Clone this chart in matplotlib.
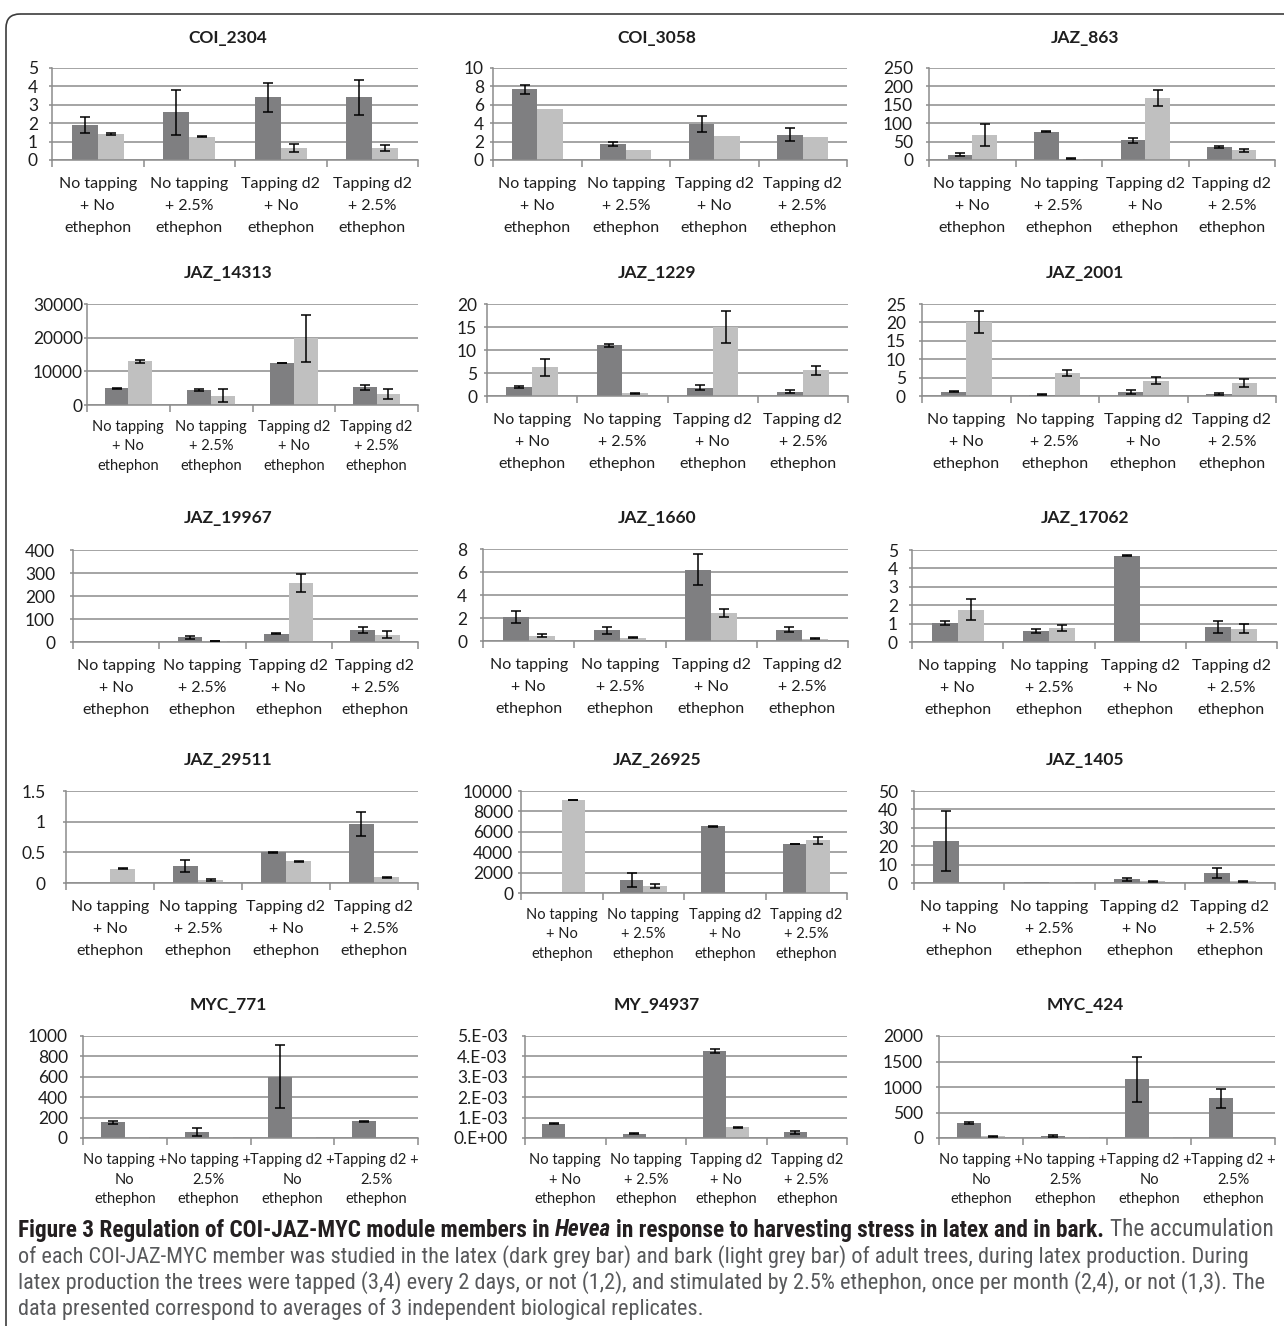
import numpy as np
import matplotlib.pyplot as plt
from matplotlib import font_manager
from matplotlib.patches import FancyBboxPatch

plt.rcParams['font.family'] = ['Lato', 'DejaVu Sans']

# one panel per gene, read left to right, top to bottom
genes = ["COI_2304", "COI_3058", "JAZ_863",
         "JAZ_14313", "JAZ_1229", "JAZ_2001",
         "JAZ_19967", "JAZ_1660", "JAZ_17062",
         "JAZ_29511", "JAZ_26925", "JAZ_1405",
         "MYC_771", "MY_94937", "MYC_424"]

conditions = ["No tapping\n+ No\nethephon", "No tapping\n+ 2.5%\nethephon",
              "Tapping d2\n+ No\nethephon", "Tapping d2\n+ 2.5%\nethephon"]
conditions_plus = ["No tapping +\nNo\nethephon", "No tapping +\n2.5%\nethephon",
                   "Tapping d2 +\nNo\nethephon", "Tapping d2 +\n2.5%\nethephon"]

# latex (dark grey bars)
latex = [
    [1.9, 2.6, 3.4, 3.42],
    [7.7, 1.75, 3.9, 2.75],
    [14, 77, 53, 35],
    [5000, 4500, 12500, 5200],
    [2.0, 11.0, 1.8, 0.9],
    [1.2, 0.4, 1.0, 0.6],
    [2, 20, 35, 53],
    [2.07, 0.93, 6.2, 1.0],
    [1.04, 0.61, 4.69, 0.81],
    [0.003, 0.28, 0.5, 0.96],
    [20, 1250, 6530, 4820],
    [23, 0.3, 2.0, 5.5],
    [154, 59, 600, 164],
    [0.70e-3, 0.21e-3, 4.26e-3, 0.28e-3],
    [295, 40, 1150, 775],
]
latex_err = [
    [0.44, 1.23, 0.77, 0.95],
    [0.5, 0.2, 0.9, 0.7],
    [4, 1, 7, 3],
    [150, 200, 100, 600],
    [0.25, 0.4, 0.5, 0.35],
    [0.15, 0.1, 0.5, 0.2],
    [0, 5, 2, 13],
    [0.54, 0.32, 1.36, 0.2],
    [0.12, 0.1, 0.02, 0.34],
    [0, 0.1, 0.005, 0.2],
    [0, 690, 30, 20],
    [16.4, 0, 0.9, 2.8],
    [12, 38, 307, 5],
    [0.02e-3, 0.03e-3, 0.1e-3, 0.06e-3],
    [25, 25, 440, 195],
]

# bark (light grey bars)
bark = [
    [1.42, 1.27, 0.64, 0.66],
    [5.5, 1.05, 2.65, 2.45],
    [68, 4, 169, 26],
    [13000, 2800, 19800, 3300],
    [6.25, 0.6, 15.0, 5.6],
    [20, 6.2, 4.2, 3.45],
    [1, 5, 256, 32],
    [0.47, 0.3, 2.4, 0.2],
    [1.76, 0.75, 0.02, 0.72],
    [0.235, 0.045, 0.355, 0.09],
    [9115, 690, 20, 5180],
    [0.2, 0.3, 1.0, 0.9],
    [7, 6, 6, 1],
    [0.01e-3, 0.01e-3, 0.52e-3, 0.05e-3],
    [30, 15, 10, 1],
]
bark_err = [
    [0.07, 0.04, 0.22, 0.16],
    [0, 0, 0, 0],
    [29, 1, 22, 3],
    [400, 2000, 6900, 1400],
    [1.85, 0.1, 3.5, 1.0],
    [3, 0.8, 0.9, 1.1],
    [0, 1, 39, 15],
    [0.1, 0.08, 0.35, 0.05],
    [0.55, 0.17, 0, 0.25],
    [0.005, 0.02, 0.01, 0.005],
    [30, 200, 0, 330],
    [0, 0, 0.3, 0.2],
    [0, 0, 0, 0],
    [0, 0, 0.02e-3, 0],
    [15, 0, 0, 0],
]

y_max = [5, 10, 250, 30000, 20, 25, 400, 8, 5, 1.5, 10000, 50, 1000, 5e-3, 2000]
y_step = [1, 2, 50, 10000, 5, 5, 100, 2, 1, 0.5, 2000, 10, 200, 1e-3, 500]
sci_ticks = ["0.E+00", "1.E-03", "2.E-03", "3.E-03", "4.E-03", "5.E-03"]

caption_head = ["Figure 3 Regulation of COI-JAZ-MYC module members in", "Hevea",
                "in response to harvesting stress in latex and in bark.", "The accumulation"]
caption_rest = [
    "of each COI-JAZ-MYC member was studied in the latex (dark grey bar) and bark (light grey bar) of adult trees, during latex production. During",
    "latex production the trees were tapped (3,4) every 2 days, or not (1,2), and stimulated by 2.5% ethephon, once per month (2,4), or not (1,3). The",
    "data presented correspond to averages of 3 independent biological replicates.",
]

# ---- layout, in pixels: left, right, top gridline, zero line ----
W, H = 1284, 1326
boxes = [
    (52, 418, 68, 160), (493, 847, 68, 160), (929, 1275, 68, 160),
    (87, 418, 304, 405), (487, 848, 304, 396), (922, 1276, 304, 396),
    (73, 418, 550, 642), (483, 848, 549, 641), (912, 1277, 550, 642),
    (66, 418, 791, 883), (521, 847, 791, 893), (914, 1275, 791, 883),
    (83, 418, 1036, 1138), (525, 847, 1036, 1138), (939, 1275, 1036, 1138),
]
# gap between y tick labels and the axis line, px
label_gap = [14, 9, 16, 4, 10, 16, 18, 16, 14, 20, 8, 16, 15, 17, 16]
title_x = [228, 657, 1085]
title_y = [38, 273, 518, 760, 1005]
small_labels = {3, 10, 12, 13, 14}
plus_labels = {12, 14}

DARK = '#7f7f81'
LIGHT = '#c0c0c0'
GRID = '#8c8c8c'
TXT = '#1e1e1e'
bw = 0.286
PT = 72 / 100  # points per pixel

fig = plt.figure(figsize=(W / 100, H / 100), dpi=100)
bg = fig.add_axes([0, 0, 1, 1], zorder=0)
bg.set_xlim(0, W)
bg.set_ylim(H, 0)
bg.axis('off')
bg.add_patch(FancyBboxPatch((6, 14), 1330, 1360, boxstyle="round,pad=0,rounding_size=14",
                            fc='none', ec='#3c3c3c', lw=1.2, clip_on=False))

x = np.arange(1, 5)
for i, gene in enumerate(genes):
    l, r, t, z = boxes[i]
    ax = fig.add_axes([l / W, 1 - z / H, (r - l) / W, (z - t) / H], zorder=1)
    ax.patch.set_alpha(0)
    ax.bar(x - bw / 2, latex[i], bw, color=DARK, zorder=2)
    ax.bar(x + bw / 2, bark[i], bw, color=LIGHT, zorder=2)
    for xs, vals, errs in ((x - bw / 2, latex[i], latex_err[i]), (x + bw / 2, bark[i], bark_err[i])):
        errs = np.array(errs)
        keep = errs > 0
        if keep.any():
            ax.errorbar(xs[keep], np.array(vals)[keep], yerr=errs[keep], fmt='none',
                        ecolor='black', elinewidth=1.1, capsize=3.6, capthick=1.1, zorder=3)

    ax.set_xlim(0.5, 4.5)
    ax.set_ylim(0, y_max[i])
    ticks = np.arange(0, y_max[i] + y_step[i] / 2, y_step[i])
    ax.set_yticks(ticks)
    if gene == "MY_94937":
        ax.set_yticklabels(sci_ticks)
    else:
        ax.set_yticklabels(['{:g}'.format(v) for v in ticks])
    ax.yaxis.grid(True, color=GRID, lw=1.1)
    ax.set_axisbelow(True)
    for s in ('top', 'right'):
        ax.spines[s].set_visible(False)
    for s in ('left', 'bottom'):
        ax.spines[s].set_color(GRID)
        ax.spines[s].set_linewidth(1.1)
    ax.tick_params(axis='y', length=3 * PT, width=1.1, color=GRID, labelsize=12.5,
                   labelcolor=TXT, pad=max(label_gap[i] - 3, 1) * PT)

    small = i in small_labels
    labels = conditions_plus if i in plus_labels else conditions
    ax.set_xticks(x)
    ax.set_xticklabels(labels, fontsize=10.5 if small else 11.5, color=TXT,
                       linespacing=1.5 if small else 1.72)
    ax.set_xticks(np.arange(0.5, 5, 1), minor=True)
    ax.tick_params(axis='x', which='major', length=0, pad=10.8 if small else 12)
    ax.tick_params(axis='x', which='minor', length=5, width=1.1, color=GRID)

    bg.text(title_x[i % 3], title_y[i // 3], gene, ha='center', va='center',
            fontsize=12.5, fontweight='bold', color=TXT)

# caption font: a narrow face if one is installed
cap_font = 'Lato'
for name in ('Liberation Sans Narrow', 'Roboto Condensed', 'Open Sans Condensed'):
    try:
        font_manager.findfont(name, fallback_to_default=False)
        cap_font = name
        break
    except ValueError:
        pass
cap_family = [cap_font, 'DejaVu Sans']

renderer = fig.canvas.get_renderer()


def text_width(s, size, **kw):
    t = bg.text(0, 0, s, family=cap_family, fontsize=size, **kw)
    w = t.get_window_extent(renderer).width
    t.remove()
    return w


def head_width(size):
    gap = text_width('a a', size, fontweight='bold') - text_width('aa', size, fontweight='bold')
    w = sum(text_width(p, size, fontweight='bold' if k < 3 else 'normal',
                       fontstyle='italic' if k == 1 else 'normal')
            for k, p in enumerate(caption_head))
    return w + 3 * gap, gap


# body lines fill the block; the heading line is sized on its own to reach the right edge
cap_size = 10 * 1225 / text_width(caption_rest[0], 10)
hw, _ = head_width(cap_size)
head_size = min(cap_size * 1252 / hw, cap_size * 1.06)
_, space = head_width(head_size)

cap_x, cap_y, cap_gap = 18, 1230, 26.3
styles = [('bold', 'normal', '#231f20'), ('bold', 'italic', '#231f20'),
          ('bold', 'normal', '#231f20'), ('normal', 'normal', '#58595b')]
cx = cap_x
for piece, (wt, st, col) in zip(caption_head, styles):
    tx = bg.text(cx, cap_y, piece, family=cap_family, fontsize=head_size, fontweight=wt,
                 fontstyle=st, color=col, va='center', ha='left')
    cx += tx.get_window_extent(renderer).width + space
for k, line in enumerate(caption_rest):
    bg.text(cap_x, cap_y + cap_gap * (k + 1), line, family=cap_family, fontsize=cap_size,
            color='#58595b', va='center', ha='left')

fig.savefig('out.png', dpi=100)
